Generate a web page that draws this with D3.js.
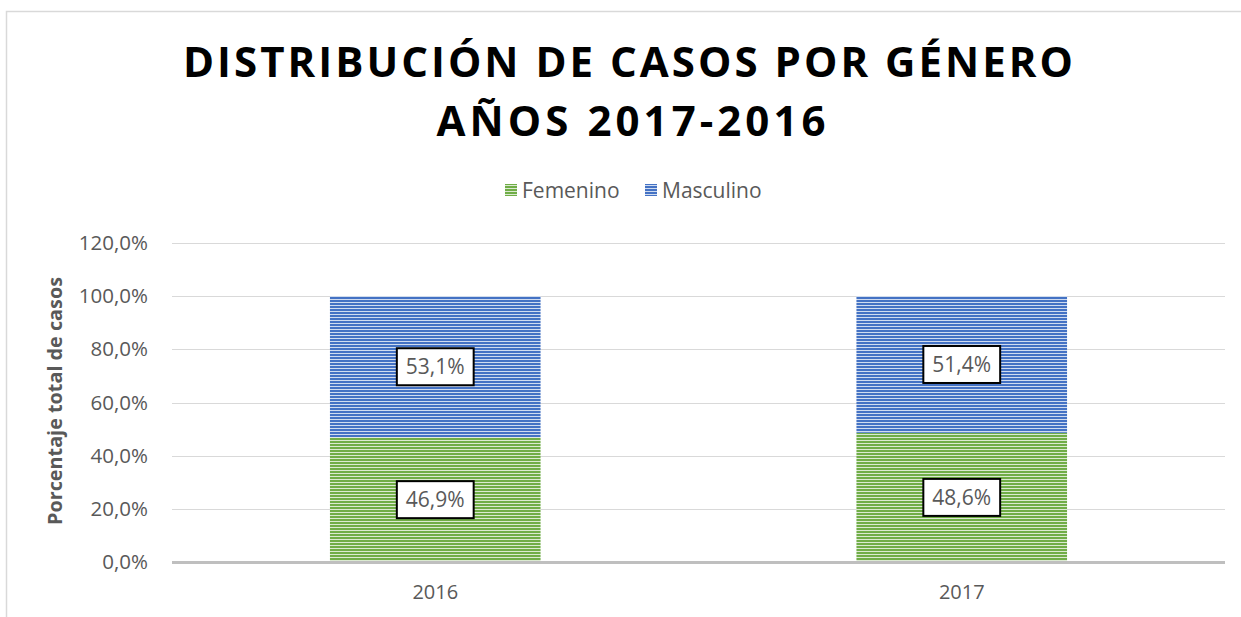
<!DOCTYPE html>
<html>
<head>
<meta charset="utf-8">
<script src="https://cdn.jsdelivr.net/npm/d3@7"></script>
<style>
  body { margin: 0; background: #fff; }
  svg { display: block; font-family: "Open Sans", sans-serif; }
</style>
</head>
<body>
<svg id="chart" width="1241" height="617"></svg>
<script>
// data
var years = ["2016", "2017"];
var series = ["Femenino", "Masculino"];
var femenino = [46.9, 48.6];
var masculino = [53.1, 51.4];
var yTicks = [0, 20, 40, 60, 80, 100, 120];

var colors = { Femenino: "#70AD47", Masculino: "#4472C4" };

var svg = d3.select("#chart");

// chart border (only top and left are visible in the window)
svg.append("rect")
    .attr("x", 6.5).attr("y", 11.5)
    .attr("width", 1400).attr("height", 800)
    .attr("fill", "none")
    .attr("stroke", "#d9d9d9")
    .attr("stroke-width", 1.5);

// striped fills
var defs = svg.append("defs");
series.forEach(function(s) {
    var p = defs.append("pattern")
        .attr("id", "pat-" + s)
        .attr("patternUnits", "userSpaceOnUse")
        .attr("width", 6).attr("height", 3);
    p.append("rect").attr("width", 6).attr("height", 3).attr("fill", colors[s]);
    p.append("rect").attr("y", 2).attr("width", 6).attr("height", 1)
        .attr("fill", "#fff").attr("opacity", 0.75);
});

// title
var title = svg.append("g")
    .attr("font-weight", "bold")
    .attr("fill", "#000")
    .attr("text-anchor", "middle");
title.append("text")
    .attr("x", 628).attr("y", 77)
    .attr("font-size", 42)
    .attr("textLength", 890)
    .attr("lengthAdjust", "spacing")
    .text("DISTRIBUCIÓN DE CASOS POR GÉNERO");
title.append("text")
    .attr("x", 631).attr("y", 136)
    .attr("font-size", 42)
    .attr("textLength", 389)
    .attr("lengthAdjust", "spacing")
    .text("AÑOS 2017-2016");

// scales
var x = d3.scaleBand().domain(years).range([172, 1225]).padding(0);
var y = d3.scaleLinear().domain([0, 120]).range([562, 243]);
var barW = x.bandwidth() * 0.4;

// gridlines
svg.append("g").selectAll("line")
    .data(yTicks.filter(function(d) { return d > 0; }))
    .enter().append("line")
    .attr("x1", 172).attr("x2", 1225)
    .attr("y1", function(d) { return Math.round(y(d)) + 0.5; })
    .attr("y2", function(d) { return Math.round(y(d)) + 0.5; })
    .attr("stroke", "#d9d9d9");

// y axis labels
var yAxis = svg.append("g")
    .attr("transform", "translate(148,0)")
    .call(d3.axisLeft(y).tickValues(yTicks).tickSize(0).tickPadding(0)
        .tickFormat(function(d) { return d.toFixed(1).replace(".", ",") + "%"; }));
yAxis.select(".domain").remove();
yAxis.selectAll("text")
    .attr("font-family", "Open Sans")
    .attr("font-size", 20.5)
    .attr("fill", "#595959");

// y axis title
svg.append("text")
    .attr("transform", "translate(62,401) rotate(-90)")
    .attr("text-anchor", "middle")
    .attr("font-weight", "bold")
    .attr("font-size", 19)
    .attr("textLength", 248)
    .attr("lengthAdjust", "spacingAndGlyphs")
    .attr("fill", "#595959")
    .text("Porcentaje total de casos");

// stacked bars
var table = years.map(function(yr, i) {
    return { year: yr, Femenino: femenino[i], Masculino: masculino[i] };
});
var stacked = d3.stack().keys(series)(table);

var layers = svg.append("g").selectAll("g")
    .data(stacked)
    .enter().append("g")
    .attr("fill", function(d) { return "url(#pat-" + d.key + ")"; });

layers.selectAll("rect")
    .data(function(d) { return d; })
    .enter().append("rect")
    .attr("x", function(d) { return x(d.data.year) + (x.bandwidth() - barW) / 2; })
    .attr("width", barW)
    .attr("y", function(d) { return y(d[1]); })
    .attr("height", function(d) { return y(d[0]) - y(d[1]); });

// zero line
svg.append("line")
    .attr("x1", 172).attr("x2", 1225)
    .attr("y1", y(0) + 0.5).attr("y2", y(0) + 0.5)
    .attr("stroke", "#bfbfbf")
    .attr("stroke-width", 3);

// x axis labels
svg.append("g").selectAll("text")
    .data(years)
    .enter().append("text")
    .attr("x", function(d) { return x(d) + x.bandwidth() / 2; })
    .attr("y", 599)
    .attr("text-anchor", "middle")
    .attr("font-size", 20)
    .attr("fill", "#595959")
    .text(function(d) { return d; });

// data labels
stacked.forEach(function(layer) {
    layer.forEach(function(d) {
        var cx = x(d.data.year) + x.bandwidth() / 2;
        var cy = (y(d[0]) + y(d[1])) / 2;
        var val = d.data[layer.key];
        var g = svg.append("g");
        var box = g.append("rect");
        var t = g.append("text")
            .attr("x", cx).attr("y", cy + 7.5)
            .attr("text-anchor", "middle")
            .attr("font-size", 21)
            .attr("fill", "#595959")
            .text(val.toFixed(1).replace(".", ",") + "%");
        var w = t.node().getComputedTextLength() + 18;
        box.attr("x", cx - w / 2).attr("y", cy - 18.5)
            .attr("width", w).attr("height", 37)
            .attr("fill", "#fff")
            .attr("stroke", "#000")
            .attr("stroke-width", 2);
    });
});

// legend
var legend = svg.append("g").attr("font-size", 21).attr("fill", "#595959");
var legX = [505, 645];
series.forEach(function(s, i) {
    legend.append("rect")
        .attr("x", legX[i]).attr("y", 184)
        .attr("width", 12).attr("height", 12)
        .attr("fill", "url(#pat-" + s + ")");
    legend.append("text")
        .attr("x", legX[i] + 17).attr("y", 198)
        .text(s);
});
</script>
</body>
</html>
